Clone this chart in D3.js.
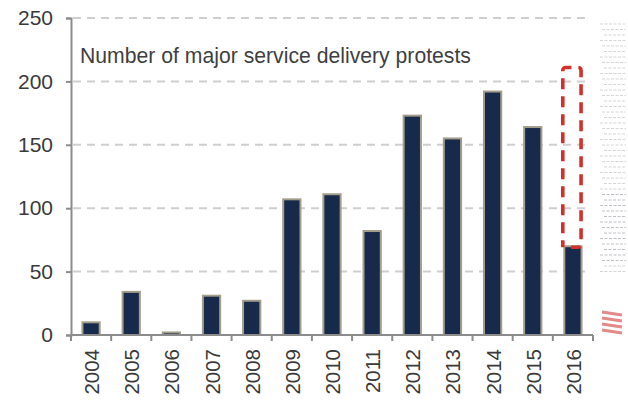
<!DOCTYPE html>
<html>
<head>
<meta charset="utf-8">
<script src="https://cdn.jsdelivr.net/npm/d3@7"></script>
<style>
  html, body { margin: 0; padding: 0; background: #ffffff; }
  svg { display: block; }
  text { font-family: "Liberation Sans", Arial, sans-serif; }
</style>
</head>
<body>
<svg id="chart" width="628" height="405"></svg>
<script>
// Annual count of major service delivery protests
const years = ["2004", "2005", "2006", "2007", "2008", "2009", "2010",
               "2011", "2012", "2013", "2014", "2015", "2016"];
const protests = [10, 34, 2, 31, 27, 107, 111, 82, 173, 155, 192, 164, 70];
const yTicks = [0, 50, 100, 150, 200, 250];
const title = "Number of major service delivery protests";
// Projected range for the current (partial) year
const projectedYear = "2016";
const projectedTop = 211;

const svg = d3.select("#chart");
const margin = { top: 18, right: 35, bottom: 70, left: 71 };
const W = 628, H = 405;
const innerW = W - margin.left - margin.right;
const innerH = H - margin.top - margin.bottom;

const g = svg.append("g").attr("transform", `translate(${margin.left},${margin.top})`);

const x = d3.scaleBand().domain(years).range([0, innerW]).paddingInner(0.57).paddingOuter(0.285);
const xEdges = d3.scaleBand().domain(years).range([0, innerW]).padding(0);
const y = d3.scaleLinear().domain([0, 250]).range([innerH, 0]);

// dashed horizontal gridlines
g.append("g")
  .selectAll("line")
  .data(yTicks.filter(d => d > 0))
  .join("line")
  .attr("x1", 2).attr("x2", innerW - 8)
  .attr("y1", d => y(d)).attr("y2", d => y(d))
  .attr("stroke", "#cfcfcf")
  .attr("stroke-width", 2)
  .attr("stroke-dasharray", "8,6");

// bars
g.append("g")
  .selectAll("rect")
  .data(years.map((yr, i) => ({ yr, v: protests[i] })))
  .join("rect")
  .attr("x", d => x(d.yr))
  .attr("width", x.bandwidth())
  .attr("y", d => y(d.v))
  .attr("height", d => y(0) - y(d.v))
  .attr("fill", "#172a4b")
  .attr("stroke", "#a39d8b")
  .attr("stroke-width", 2);

// y axis
const yAxis = g.append("g")
  .call(d3.axisLeft(y).tickValues(yTicks).tickSize(5).tickPadding(13));
yAxis.select(".domain").attr("stroke", "#8c8c8c").attr("stroke-width", 2);
yAxis.selectAll(".tick line").attr("stroke", "#8c8c8c").attr("stroke-width", 2);
yAxis.selectAll(".tick text")
  .attr("fill", "#3a3a3a")
  .attr("font-size", 21)
  .attr("font-family", "Liberation Sans, Arial, sans-serif");

// x axis with ticks at band boundaries
const xg = g.append("g").attr("transform", `translate(0,${innerH})`);
xg.append("line")
  .attr("x1", 0).attr("x2", innerW)
  .attr("stroke", "#8c8c8c").attr("stroke-width", 2);
xg.selectAll("line.tk")
  .data(years.map(d => xEdges(d)).concat([innerW]))
  .join("line")
  .attr("class", "tk")
  .attr("x1", d => d).attr("x2", d => d)
  .attr("y1", 0).attr("y2", 6)
  .attr("stroke", "#8c8c8c").attr("stroke-width", 2);
xg.selectAll("text")
  .data(years)
  .join("text")
  .attr("transform", d => `translate(${xEdges(d) + xEdges.bandwidth() / 2 + 8},${14}) rotate(-90)`)
  .attr("text-anchor", "end")
  .attr("fill", "#3a3a3a")
  .attr("font-size", 20.5)
  .text(d => d);

// title
g.append("text")
  .attr("x", 9)
  .attr("y", 45)
  .attr("fill", "#3f3f3f")
  .attr("font-size", 21.2)
  .text(title);

// projected range outline
const px0 = x(projectedYear) - 1.5, px1 = x(projectedYear) + x.bandwidth() - 0.5;
const py0 = y(projectedTop), py1 = y(protests[years.indexOf(projectedYear)]) + 1;
const r = 3;
const outline = d3.path();
outline.moveTo(px0, py1);
outline.lineTo(px0, py0 + r);
outline.arcTo(px0, py0, px0 + r, py0, r);
outline.lineTo(px1 - r, py0);
outline.arcTo(px1, py0, px1, py0 + r, r);
outline.lineTo(px1, py1 - r);
outline.arcTo(px1, py1, px1 - r, py1, r);
outline.lineTo(px1 - 10, py1);
g.append("path")
  .attr("d", outline.toString())
  .attr("fill", "none")
  .attr("stroke", "#d2302b")
  .attr("stroke-width", 3.6)
  .attr("stroke-dasharray", "11,7")
  .attr("stroke-dashoffset", 4);

// neighbouring page content cut off at the right edge
const side = svg.append("g").attr("opacity", 0.55);
d3.range(24, 275, 5.5).forEach((yy, i) => {
  side.append("line")
    .attr("x1", 600 + (i % 3) * 2).attr("x2", 626)
    .attr("y1", yy).attr("y2", yy)
    .attr("stroke", i > 30 && i < 44 ? "#8a8f9a" : "#b5b5b5")
    .attr("stroke-width", 1.2)
    .attr("stroke-dasharray", "3,1.5");
});
d3.range(312, 336, 6).forEach(yy => {
  side.append("line")
    .attr("x1", 602).attr("x2", 622)
    .attr("y1", yy).attr("y2", yy + 3)
    .attr("stroke", "#cc2a2a").attr("stroke-width", 3);
});
</script>
</body>
</html>
